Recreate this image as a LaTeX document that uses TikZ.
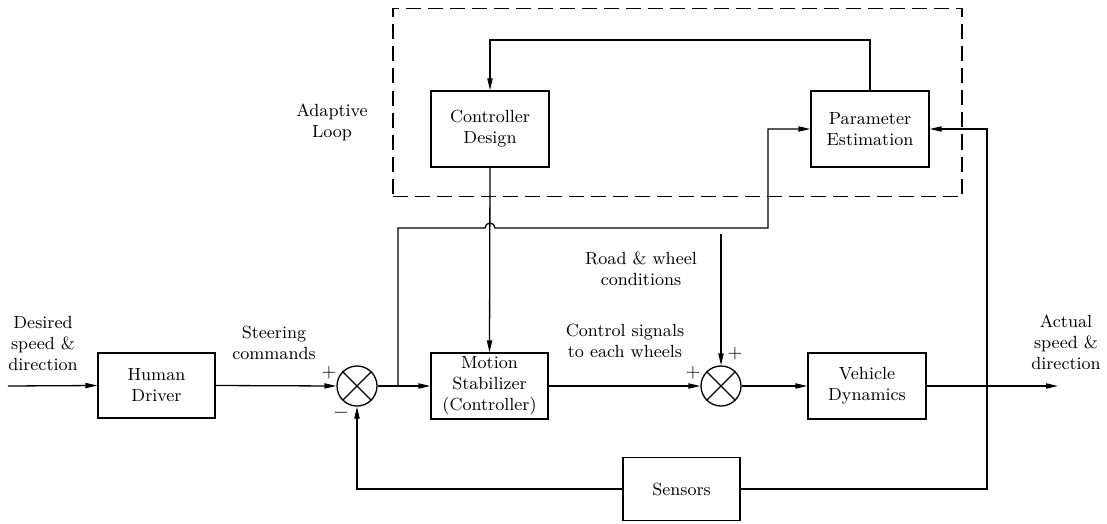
\documentclass[tikz,border=0pt]{standalone}
\usepackage{fontspec}
\usetikzlibrary{arrows.meta}
\newcommand\lblfont{\rmfamily\fontsize{8.8pt}{10.5pt}\selectfont}
\begin{document}
\begin{tikzpicture}[x=0.5pt,y=-0.5pt, line width=0.65pt,
  >={Triangle[length=6pt,width=2.6pt]},
  blk/.style={draw, minimum width=58.5pt, minimum height=32.5pt, align=center, inner sep=0pt, font=\lblfont},
  tallblk/.style={blk, minimum height=38pt},
  sumnode/.style={draw, circle, minimum size=20pt, inner sep=0pt},
  lbl/.style={align=center, inner sep=0pt, font=\lblfont},
  sgn/.style={inner sep=0pt, font=\rmfamily\fontsize{9.5pt}{10pt}\selectfont},
  adaptbox/.style={draw, dash pattern=on 7.5pt off 3.5pt}]
\useasboundingbox (0,0) rectangle (1107,524);

% blocks
\node[blk] (hd) at (156.5,385.5) {Human\\Driver};
\node[blk, minimum height=33pt] (ms) at (489.5,386) {Motion\\Stabilizer\\(Controller)};
\node[blk, minimum height=33pt, minimum width=59pt] (vd) at (867,386) {Vehicle\\Dynamics};
\node[tallblk, minimum width=59pt] (cd) at (490,129) {Controller\\Design};
\node[tallblk, minimum width=59pt] (pe) at (870,129) {Parameter\\Estimation};
\node[blk, minimum height=31.5pt] (se) at (681.5,489) {Sensors};

% summing junctions
\node[sumnode] (s1) at (357,386) {};
\node[sumnode] (s2) at (721,386) {};
\foreach \s in {s1,s2}{
  \draw[line width=0.55pt] (\s.north west) -- (\s.south east);
  \draw[line width=0.55pt] (\s.north east) -- (\s.south west);
}

% adaptive loop box
\node[adaptbox, minimum width=284.5pt, minimum height=94pt, inner sep=0pt] (al) at (677.5,102.5) {};

% coordinates
\coordinate (in) at (8,386);
\coordinate (out) at (1058,386);
\coordinate (j1) at (398,386);
\coordinate (j2) at (987,386);
\coordinate (rw) at (721,234);

% main path
\draw[->] (in) -- (hd.west);
\draw[->] (hd.east) -- (s1.west);
\draw[->] (s1.east) -- (ms.west);
\draw[->] (ms.east) -- (s2.west);
\draw[->] (s2.east) -- (vd.west);
\draw[->] (vd.east) -- (out);
\draw[->] (rw) -- (s2.north);

% adaptive loop connections
\draw[->] (pe.north) -- (870,40) -- (490,40) -- (cd.north);
\draw[->] (cd.south) -- (ms.north);
\draw[->] (j1) -- (398,228) -- (485,228) arc[start angle=180, end angle=0, radius=2.5pt] -- (768,228) |- (pe.west);
\draw[->] (j2) |- (pe.east);

% feedback
\draw (j2) |- (se.east);
\draw[->] (se.west) -| (s1.south);

% labels
\node[lbl] (l1) at (43,343) {Desired\\speed \&\\direction};
\node[lbl] (l2) at (274,343) {Steering\\commands};
\node[lbl] (l3) at (625,341) {Control signals\\to each wheels};
\node[lbl] (l4) at (641,269) {Road \& wheel\\conditions};
\node[lbl] (l5) at (1066,342) {Actual\\speed \&\\direction};
\node[lbl] (l6) at (332,122) {Adaptive\\Loop};

% signs
\node[sgn] (p1) at (329,373) {+};
\node[sgn] (m1) at (341,415) {\textminus};
\node[sgn] (p2) at (693,373) {+};
\node[sgn] (p3) at (735,354) {+};
\end{tikzpicture}
\end{document}
